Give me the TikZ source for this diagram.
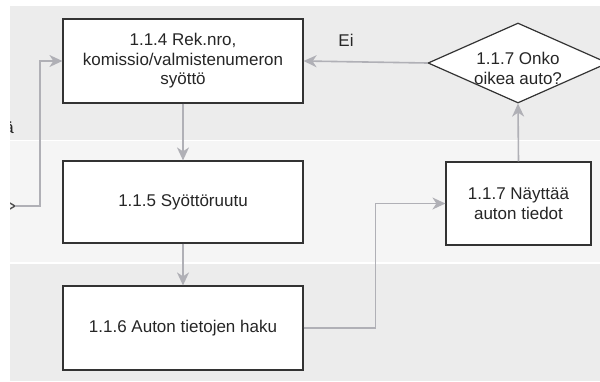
\documentclass[tikz,border=0pt]{standalone}
\usepackage{fontspec}
\setmainfont{Liberation Sans}
\usetikzlibrary{arrows.meta,shapes.geometric}
\definecolor{bandgray}{RGB}{236,236,236}
\definecolor{bandlight}{RGB}{245,245,245}
\definecolor{arrowgray}{RGB}{176,176,182}
\definecolor{boxline}{RGB}{51,51,51}
\tikzset{
  procbox/.style={draw=boxline, line width=1.2pt, fill=white, minimum width=240pt, minimum height=84pt, inner sep=0pt, align=center, text=black!85, font=\fontsize{17pt}{19.5pt}\selectfont},
  diam/.style={draw=boxline, line width=1.2pt, fill=white, shape=diamond, aspect=2.25, minimum width=180pt, minimum height=80pt, inner sep=0pt},
  lbl/.style={inner sep=0pt, align=center, font=\fontsize{17pt}{20pt}\selectfont, text=black!85},
  conn/.style={draw=arrowgray, line width=1.6pt, -{Stealth[length=13pt,width=12pt,inset=4pt]}},
}
\begin{document}
\begin{tikzpicture}[x=1pt,y=-1pt]
\useasboundingbox (0,0) rectangle (600,381);
\clip (0,0) rectangle (600,381);
\fill[white] (0,0) rectangle (600,381);
% lanes
\fill[bandgray] (10,6) rectangle (600,140);
\fill[bandlight] (10,141) rectangle (600,262);
\fill[bandgray] (10,264) rectangle (600,381);
% clipped remnants at left
\begin{scope}
\clip (10,0) rectangle (600,381);
\node[lbl, anchor=east] (remtxt) at (14,128) {ä};
\draw[boxline!85, line width=1.4pt] (9,202.5) -- (15,206) -- (9,209.5);
\end{scope}
% nodes
\node[procbox] (n114) at (183,61) {1.1.4 Rek.nro,\\komissio/valmistenumeron\\syöttö};
\node[procbox, minimum height=82pt] (n115) at (183,202) {1.1.5 Syöttöruutu};
\node[procbox] (n116) at (183,328) {1.1.6 Auton tietojen haku};
\node[procbox, minimum width=145pt, minimum height=83pt] (n117) at (518.5,203.5) {1.1.7 Näyttää\\auton tiedot};
\node[diam] (dia) at (518,63) {};
\node[lbl] (diatxt) at (518,68) {1.1.7 Onko\\oikea auto?};
\node[lbl] (ei) at (346,40) {Ei};
% connectors
\coordinate (inc) at (15,206);
\draw[conn] (inc) -- (40,206) |- (n114.west);
\draw[conn] (n114.south) -- (n115.north);
\draw[conn] (n115.south) -- (n116.north);
\draw[conn] (n116.east) -- ++(72,0) |- (n117.west);
\draw[conn] (n117.north) -- (dia.south);
\draw[conn] (dia.west) -- (n114.east);
\end{tikzpicture}
\end{document}
